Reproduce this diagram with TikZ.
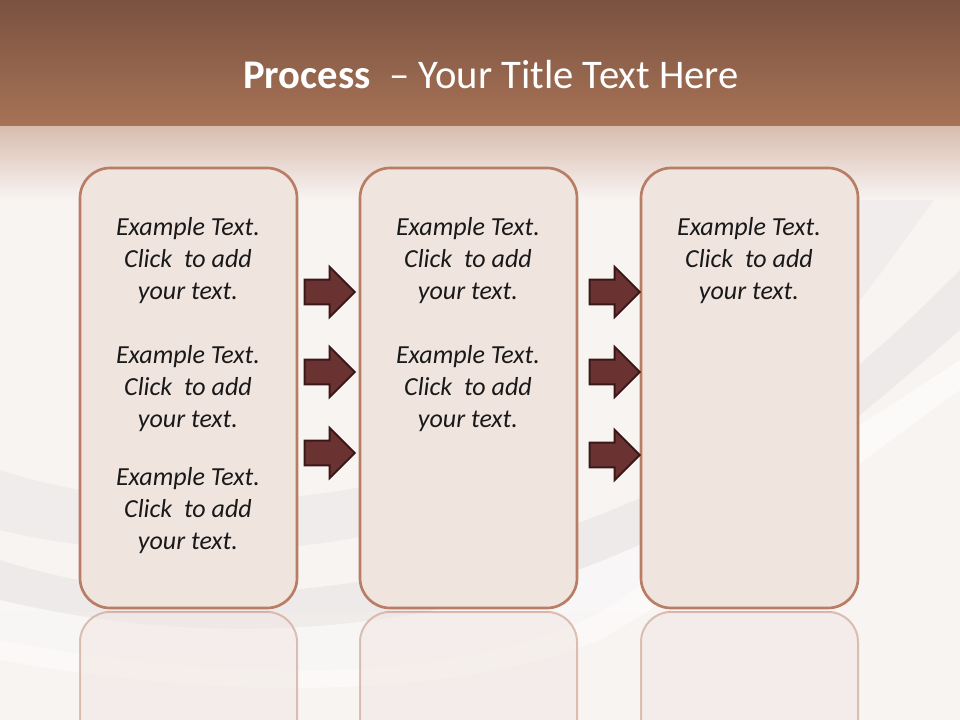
\documentclass[tikz,border=0pt]{standalone}
\usepackage{fontspec}
\setmainfont{Carlito}
\usetikzlibrary{shapes.arrows}
\definecolor{hdrtop}{HTML}{7A5240}
\definecolor{hdrbot}{HTML}{A87357}
\definecolor{fadetop}{HTML}{D8BDAF}
\definecolor{bgc}{HTML}{F8F4F2}
\definecolor{boxfill}{HTML}{F0E4DF}
\definecolor{boxline}{HTML}{B87D64}
\definecolor{arrfill}{HTML}{6B3232}
\definecolor{arrline}{HTML}{3A1818}
\definecolor{fabric}{HTML}{E6E2E2}
\tikzset{
  stagebox/.style={draw=boxline, line width=2pt, fill=boxfill, rounded corners=22.5pt,
    minimum width=162.75pt, minimum height=330pt, inner sep=0pt},
  reflbox/.style={draw=boxline, draw opacity=0.55, line width=1.5pt, fill=boxfill, fill opacity=0.5, rounded corners=22.5pt},
  bodytext/.style={align=center, font=\fontsize{19.5pt}{24pt}\selectfont\itshape, text=black!90, inner sep=0pt},
  flowarrow/.style={single arrow, single arrow head extend=9.5pt, minimum height=37.5pt,
    minimum width=0pt, inner sep=8.5pt, fill=arrfill, draw=arrline, line width=1.5pt, anchor=center},
  titletext/.style={font=\fontsize{30.5pt}{36pt}\selectfont, text=white, inner sep=0pt}
}
\begin{document}
\begin{tikzpicture}[x=0.75pt,y=-0.75pt]
\useasboundingbox (0,0) rectangle (960,720);
\begin{scope}
\clip (0,0) rectangle (960,720);
% background
\fill[bgc] (0,0) rectangle (960,720);
% fabric swooshes
\fill[fabric, opacity=0.55] (0,560) .. controls (250,640) and (520,560) .. (700,470)
  .. controls (820,410) and (900,330) .. (960,270) -- (960,330)
  .. controls (880,400) and (760,500) .. (620,600) .. controls (500,680) and (250,690) .. (0,640) -- cycle;
\fill[white, opacity=0.6] (0,600) .. controls (250,660) and (480,620) .. (650,540)
  .. controls (760,490) and (870,420) .. (960,360) -- (960,390)
  .. controls (860,460) and (740,560) .. (600,640) .. controls (450,700) and (220,700) .. (0,660) -- cycle;
\fill[fabric, opacity=0.4] (0,470) .. controls (150,520) and (350,500) .. (420,470)
  -- (430,520) .. controls (300,560) and (120,560) .. (0,530) -- cycle;
\fill[fabric, opacity=0.35] (600,150) .. controls (650,220) and (700,260) .. (760,290)
  -- (860,300) .. controls (900,250) and (930,200) .. (960,170) -- (960,130) -- (600,130) -- cycle;
\fill[fabric!70!boxfill, opacity=0.5] (0,130) .. controls (60,180) and (120,220) .. (180,230)
  -- (240,130) -- cycle;
% header
\shade[top color=hdrtop, bottom color=hdrbot] (0,0) rectangle (960,128);
\shade[top color=fadetop, bottom color=bgc] (0,127) rectangle (960,200);
% reflections
\draw[reflbox] (80,780) -- (80,612) -- (297,612) -- (297,780);
\draw[reflbox] (360,780) -- (360,612) -- (577,612) -- (577,780);
\draw[reflbox] (641,780) -- (641,612) -- (858,612) -- (858,780);
\shade[top color=bgc, bottom color=bgc, opacity=0.2] (0,612) rectangle (960,720);
\end{scope}
% title
\node[titletext] (title) at (491,75) {\textbf{Process}\ \ – Your Title Text Here};
% boxes
\node[stagebox] (b1) at (188.5,388) {};
\node[stagebox] (b2) at (468.5,388) {};
\node[stagebox] (b3) at (749.5,388) {};
% texts
\node[bodytext] (ta1) at (188,261) {Example Text.\\Click\ \ to add\\your text.};
\node[bodytext] (ta2) at (188,389) {Example Text.\\Click\ \ to add\\your text.};
\node[bodytext] (ta3) at (188,511) {Example Text.\\Click\ \ to add\\your text.};
\node[bodytext] (tb1) at (468,261) {Example Text.\\Click\ \ to add\\your text.};
\node[bodytext] (tb2) at (468,389) {Example Text.\\Click\ \ to add\\your text.};
\node[bodytext] (tc1) at (749,261) {Example Text.\\Click\ \ to add\\your text.};
% arrows
\node[flowarrow] (r11) at (323.5,292) {};
\node[flowarrow] (r12) at (323.5,372) {};
\node[flowarrow] (r13) at (323.5,453) {};
\node[flowarrow] (r21) at (608.5,292) {};
\node[flowarrow] (r22) at (608.5,372) {};
\node[flowarrow] (r23) at (608.5,455) {};
\end{tikzpicture}
\end{document}
